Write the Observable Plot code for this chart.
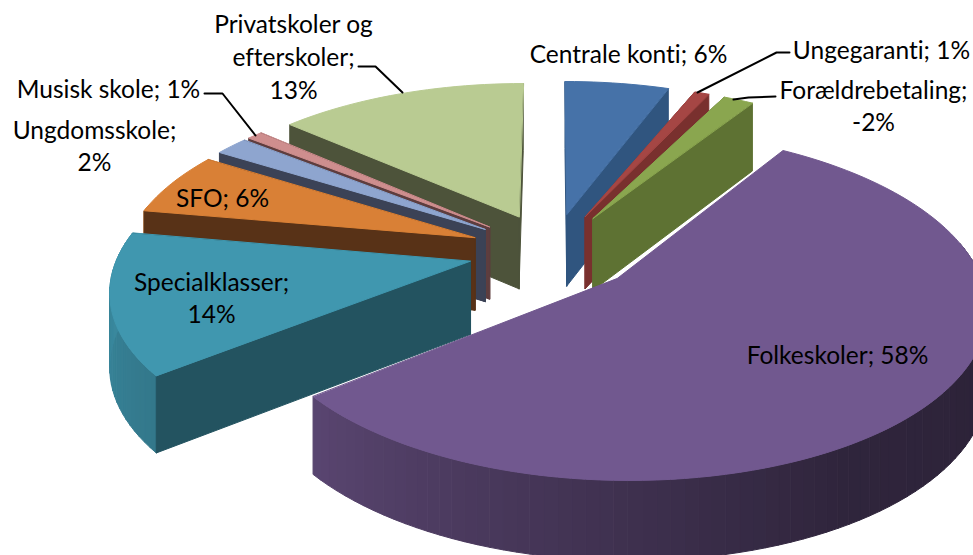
<!DOCTYPE html>
<html><head><meta charset="utf-8">
<script src="https://cdn.jsdelivr.net/npm/d3@7"></script>
<script src="https://cdn.jsdelivr.net/npm/@observablehq/plot@0.6"></script>
<style>html,body{margin:0;padding:0;background:#fff;overflow:hidden}svg{display:block}svg text{font-variant-ligatures:none;font-feature-settings:"liga" 0}</style>
</head><body><div id="chart"></div>
<script>
const categories = ["Centrale konti","Ungegaranti","Forældrebetaling","Folkeskoler","Specialklasser","SFO","Ungdomsskole","Musisk skole","Privatskoler og\nefterskoler"];
const shares = [6,1,-2,58,14,6,2,1,13];
// where each slice starts and ends, in degrees
const sliceStart = [0,22,26.5,32.5,231.3,280,302,308.5,311.5];
const sliceEnd = [20,24.8,32.3,231.3,280,302,308.5,311.5,360];
const topColors = ["#4672a8","#a54644","#8aa64f","#71588f","#4097af","#d98036","#8ea5cf","#ce8e8e","#b9cb92"];
const wallColors = ["#30557f","#79302e","#5e7233","#71588f","#235360","#583217","#3b4256","#5e3d3e","#4d533a"];
const paintOrder = [8,0,1,2,7,6,5,4,3];
const labelSeparators = [" "," ","\n"," ","\n"," ","\n"," ","\n"];

const labelX = [628,881,873,837,211,222,94,108,293];
const labelY = [52,48,104,353,296,196,144,87,55];
const leaders = [
  [[697,92],[776,52],[789,52]],
  [[733,99],[748,97],[775,96]],
  [[255,135],[222,93],[204,93]],
  [[402,92],[375,66],[358,66]]
];

// pie geometry: a tilted disc seen in perspective
const cx = 552, cy = 251, Rright = 355, Rleft = 351, K = 163, persp = 0.15, explode = 0.24, depth = 73;
const project = (u, v, down = 0) => {
  const s = 1 / (1 + persp * v);
  return {x: cx + (u < 0 ? Rleft : Rright) * u * s, y: cy - K * v * s + down * Math.sqrt(s)};
};
const slices = sliceStart.map((a, i) => {
  const a0 = a * Math.PI / 180, a1 = sliceEnd[i] * Math.PI / 180;
  const mid = (a0 + a1) / 2;
  return {i, a0, a1, ou: explode * Math.sin(mid), ov: explode * Math.cos(mid)};
});
const shade = d3.scaleLinear().domain([0,90,150,180,234,270,360]).range([.9,.38,.42,.55,.8,.9,.9]);
const rows = [];
let faceId = 0;
const face = (pts, color) => { const id = faceId++; pts.forEach(p => rows.push({id, x: p.x, y: p.y, color})); };
for (const k of paintOrder) {
  const s = slices[k];
  const rim = (a, down) => project(s.ou + Math.sin(a), s.ov + Math.cos(a), down);
  const apex = down => project(s.ou, s.ov, down);
  const steps = Math.max(2, Math.ceil((s.a1 - s.a0) * 30));
  // outer wall in narrow shaded strips
  for (let j = 0; j < steps; j++) {
    const p = s.a0 + (s.a1 - s.a0) * j / steps, q = s.a0 + (s.a1 - s.a0) * (j + 1) / steps;
    if (Math.cos((p + q) / 2) > 0.2) continue;
    const b = shade(((p + q) / 2) * 180 / Math.PI);
    const c = d3.rgb(topColors[k]);
    face([rim(p,0), rim(q,0), rim(q,depth), rim(p,depth)], d3.rgb(c.r*b, c.g*b, c.b*b).formatHex());
  }
  // radial walls
  const walls = [s.a0, s.a1].sort((p, q) => Math.cos(q) - Math.cos(p));
  if (k !== 3) for (const a of walls)
    face([apex(0), rim(a,0), rim(a,depth), apex(depth)], wallColors[k]);
  // top
  const top = [apex(0)];
  for (let j = 0; j <= steps; j++) top.push(rim(s.a0 + (s.a1 - s.a0) * j / steps, 0));
  face(top, topColors[k]);
}
const labels = categories.map((c, i) => ({t: `${c};${labelSeparators[i]}${shares[i]}%`, x: labelX[i], y: labelY[i]}));
const leaderRows = leaders.flatMap((l, id) => l.map(([x, y]) => ({id, x, y})));

const plot = Plot.plot({
  width: 973, height: 555, margin: 0,
  x: {domain: [0, 973], range: [0, 973], axis: null},
  y: {domain: [0, 555], range: [0, 555], axis: null},
  color: {type: "identity"},
  style: {background: "#fff"},
  marks: [
    Plot.line(rows, {x: "x", y: "y", z: "id", fill: "color", stroke: "color", strokeWidth: 1, curve: "linear-closed"}),
    Plot.line(leaderRows, {x: "x", y: "y", z: "id", stroke: "#000", strokeWidth: 2}),
    Plot.text(labels, {x: "x", y: "y", text: "t", fontFamily: "Lato", fontSize: 24.5, fill: "#000", lineHeight: 1.34, textAnchor: "middle"})
  ]
});
document.getElementById("chart").append(plot);
</script></body></html>
